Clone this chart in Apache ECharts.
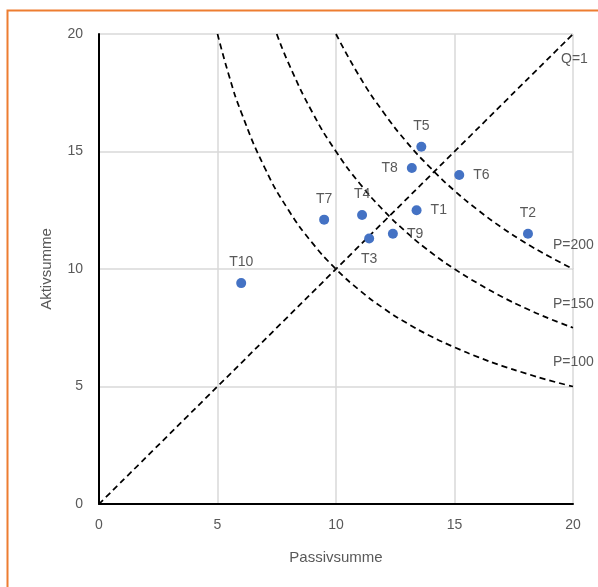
<!DOCTYPE html>
<html>
<head>
<meta charset="utf-8">
<script src="https://cdn.jsdelivr.net/npm/echarts@6/dist/echarts.min.js"></script>
<style>
html,body{margin:0;padding:0;background:#fff;}
#c{width:598px;height:587px;}
</style>
</head>
<body>
<div id="c"></div>
<script>
const pointNames = ['T1','T2','T3','T4','T5','T6','T7','T8','T9','T10'];
const passiv = [13.4, 18.1, 11.4, 11.1, 13.6, 15.2, 9.5, 13.2, 12.4, 6.0];
const aktiv  = [12.5, 11.5, 11.3, 12.3, 15.2, 14.0, 12.1, 14.3, 11.5, 9.4];
const labelPos = ['right','top','bottom','top','top','right','top','left','right','top'];

const qLine = [[0,0],[20,20]];
const p100 = [[5,20],[5.5,18.18],[6,16.67],[7,14.29],[8,12.5],[9,11.11],[10,10],[11,9.09],[12,8.33],[13,7.69],[14,7.14],[15,6.67],[16,6.25],[17,5.88],[18,5.56],[19,5.26],[20,5]];
const p150 = [[7.5,20],[8,18.75],[9,16.67],[10,15],[11,13.64],[12,12.5],[13,11.54],[14,10.71],[15,10],[16,9.38],[17,8.82],[18,8.33],[19,7.89],[20,7.5]];
const p200 = [[10,20],[11,18.18],[12,16.67],[13,15.38],[14,14.29],[15,13.33],[16,12.5],[17,11.76],[18,11.11],[19,10.53],[20,10]];
const lineNames = ['Q=1','P=100','P=150','P=200'];

const font = 'Liberation Sans';
const gray = '#595959';

function dashLine(name, data, pos) {
  return {
    name, type: 'line', data, symbol: 'none', smooth: true, silent: true,
    lineStyle: {color: '#000', width: 1.75, type: [6,4]},
    endLabel: {show: true, formatter: name, position: pos, color: gray,
      fontFamily: font, fontSize: 14,
      offset: pos === 'bottom' ? [-20, 25] : [-28, -24]},
    z: 2
  };
}

const chart = echarts.init(document.getElementById('c'));
chart.setOption({
  animation: false,
  backgroundColor: '#fff',
  grid: {left: 99, top: 34, right: 25, bottom: 83, containLabel: false},
  xAxis: {
    type: 'value', min: 0, max: 20, interval: 5,
    name: 'Passivsumme', nameLocation: 'middle', nameGap: 46,
    nameTextStyle: {color: gray, fontFamily: font, fontSize: 15},
    axisLine: {show: true, onZero: false, lineStyle: {color: '#000', width: 2}},
    axisTick: {show: false},
    axisLabel: {color: gray, fontFamily: font, fontSize: 14, margin: 14},
    splitLine: {show: true, lineStyle: {color: '#d9d9d9', width: 1.5}}
  },
  yAxis: {
    type: 'value', min: 0, max: 20, interval: 5,
    name: 'Aktivsumme', nameLocation: 'middle', nameGap: 45,
    nameTextStyle: {color: gray, fontFamily: font, fontSize: 15},
    axisLine: {show: true, onZero: false, lineStyle: {color: '#000', width: 2}},
    axisTick: {show: false},
    axisLabel: {color: gray, fontFamily: font, fontSize: 14, margin: 16},
    splitLine: {show: true, lineStyle: {color: '#d9d9d9', width: 1.5}}
  },
  graphic: [{
    type: 'rect', shape: {x: 7.5, y: 10.5, width: 700, height: 700},
    style: {fill: 'none', stroke: '#ED7D31', lineWidth: 2}, silent: true, z: 100
  }],
  series: [
    dashLine(lineNames[0], qLine, 'bottom'),
    dashLine(lineNames[1], p100, 'top'),
    dashLine(lineNames[2], p150, 'top'),
    dashLine(lineNames[3], p200, 'top'),
    {
      type: 'scatter', symbolSize: 10, z: 5,
      itemStyle: {color: '#4472C4', opacity: 1},
      data: pointNames.map((n, i) => ({
        value: [passiv[i], aktiv[i]], name: n,
        label: {show: true, formatter: n, position: labelPos[i], distance: 9,
          color: gray, fontFamily: font, fontSize: 14}
      }))
    }
  ]
});
</script>
</body>
</html>
